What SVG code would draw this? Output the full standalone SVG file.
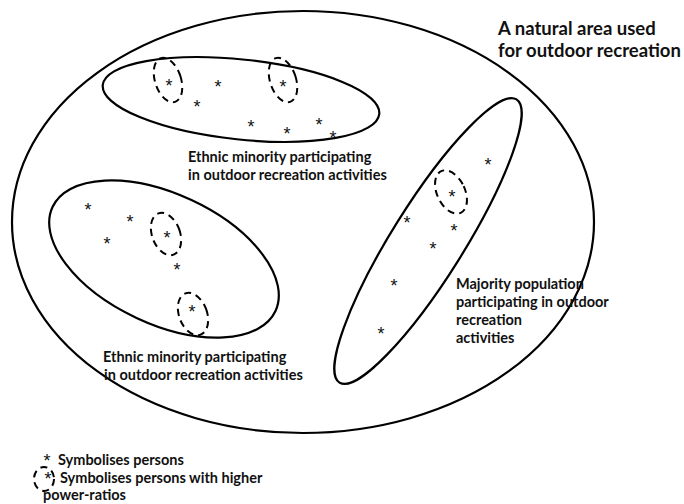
<svg xmlns="http://www.w3.org/2000/svg" width="684" height="504" viewBox="0 0 684 504">
<style>
.solid{fill:none;stroke:#000;stroke-width:2.2}
.dash{fill:none;stroke:#000;stroke-width:2;stroke-dasharray:7,5}
.lbl{font-family:Lato,"Liberation Sans",sans-serif;font-weight:bold;font-size:14.5px;fill:#111}
.ttl{font-family:Lato,"Liberation Sans",sans-serif;font-weight:bold;font-size:18.5px;fill:#111}
.st{font-family:"Liberation Sans",Arial,sans-serif;font-size:18px;fill:#111;text-anchor:middle}
</style>
<rect width="684" height="504" fill="#fff"/>
<g id="area">
<ellipse class="solid" cx="303" cy="222" rx="291" ry="211"/>
<text class="ttl" x="498" y="35">A natural area used</text>
<text class="ttl" x="498" y="57">for outdoor recreation</text>
</g>
<g id="minority-top">
<ellipse class="solid" cx="241" cy="99.5" rx="139" ry="40" transform="rotate(6 241 99.5)"/>
<ellipse class="dash" cx="168" cy="80" rx="13" ry="23" transform="rotate(-18 168 80)"/>
<ellipse class="dash" cx="283" cy="80" rx="13" ry="23" transform="rotate(-18 283 80)"/>
<text class="st" x="169" y="92">*</text>
<text class="st" x="283" y="93">*</text>
<text class="st" x="218" y="93">*</text>
<text class="st" x="197" y="113">*</text>
<text class="st" x="251" y="133">*</text>
<text class="st" x="287" y="140">*</text>
<text class="st" x="319" y="131">*</text>
<text class="st" x="333" y="144">*</text>
<text class="lbl" x="188" y="162">Ethnic minority participating</text>
<text class="lbl" x="188" y="180">in outdoor recreation activities</text>
</g>
<g id="minority-left">
<ellipse class="solid" cx="164" cy="259" rx="123" ry="65" transform="rotate(25 164 259)"/>
<ellipse class="dash" cx="166" cy="234" rx="14" ry="22" transform="rotate(-20 166 234)"/>
<ellipse class="dash" cx="193" cy="314" rx="14" ry="22" transform="rotate(-20 193 314)"/>
<text class="st" x="88" y="216">*</text>
<text class="st" x="130" y="228">*</text>
<text class="st" x="107" y="250">*</text>
<text class="st" x="167" y="244">*</text>
<text class="st" x="177" y="276">*</text>
<text class="st" x="192" y="318">*</text>
<text class="lbl" x="103" y="362">Ethnic minority participating</text>
<text class="lbl" x="104" y="380">in outdoor recreation activities</text>
</g>
<g id="majority">
<ellipse class="solid" cx="428" cy="241" rx="167" ry="36" transform="rotate(-58 428 241)"/>
<ellipse class="dash" cx="451" cy="192" rx="14" ry="23" transform="rotate(-25 451 192)"/>
<text class="st" x="488" y="171">*</text>
<text class="st" x="452" y="203">*</text>
<text class="st" x="407" y="229">*</text>
<text class="st" x="454" y="237">*</text>
<text class="st" x="433" y="255">*</text>
<text class="st" x="394" y="292">*</text>
<text class="st" x="381" y="340">*</text>
<text class="lbl" x="456" y="289">Majority population</text>
<text class="lbl" x="456" y="307">participating in outdoor</text>
<text class="lbl" x="456" y="325">recreation</text>
<text class="lbl" x="456" y="343">activities</text>
</g>
<g id="legend">
<text class="st" x="47" y="467">*</text>
<text class="lbl" x="58" y="465">Symbolises persons</text>
<ellipse class="dash" cx="44" cy="479" rx="10" ry="12" stroke-dasharray="6,4"/>
<text class="st" x="48" y="485">*</text>
<text class="lbl" x="60" y="483">Symbolises persons with higher</text>
<text class="lbl" x="43" y="500">power-ratios</text>
</g>
</svg>
